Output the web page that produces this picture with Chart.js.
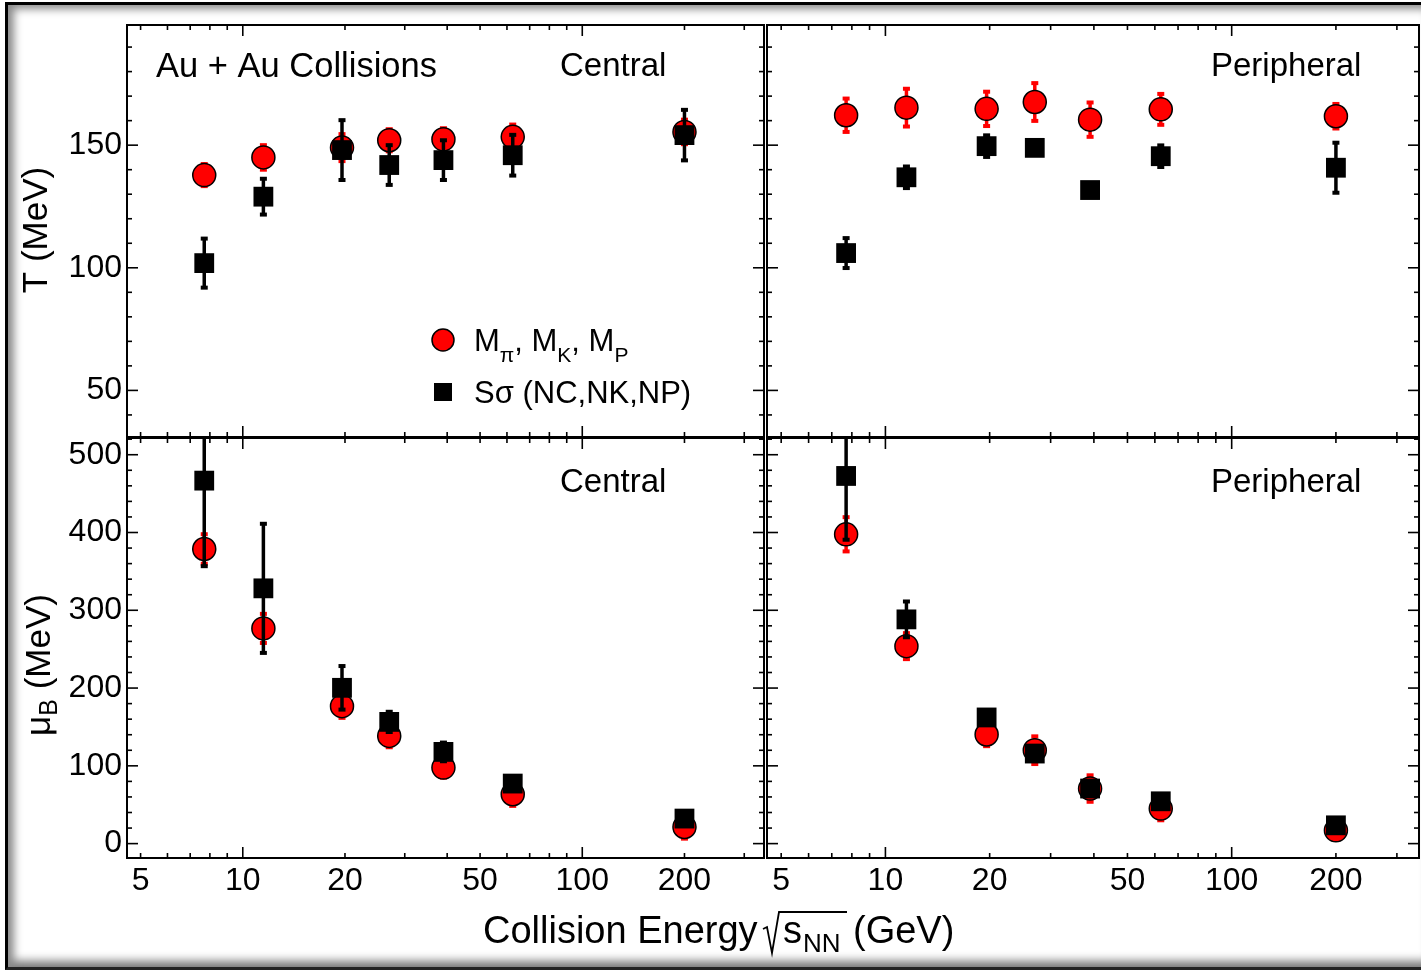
<!DOCTYPE html>
<html><head><meta charset="utf-8">
<script src="https://cdn.jsdelivr.net/npm/chart.js@4.4.1/dist/chart.umd.min.js"></script>
<style>
html,body{margin:0;padding:0;background:#fff;width:1421px;height:970px;overflow:hidden;}
#frame{position:absolute;left:5px;top:2px;width:1416px;height:968px;box-sizing:border-box;border-left:3px solid #000;border-top:3px solid #000;border-bottom:3px solid #222;box-shadow: inset 12px 10px 8px -6px #8a8a8a, inset 0 -14px 10px -8px #777;}
canvas{position:absolute;left:0;top:0;}
</style></head><body>
<div id="frame"></div>
<canvas id="cTL" width="1421" height="970"></canvas>
<canvas id="cTR" width="1421" height="970"></canvas>
<canvas id="cBL" width="1421" height="970"></canvas>
<canvas id="cBR" width="1421" height="970"></canvas>
<script>
// ---- data ----
const energies = [7.7, 11.5, 19.6, 27, 39, 62.4, 200];
const xTickLabels = [5, 10, 20, 50, 100, 200];
const tTickLabels = [50, 100, 150];
const muTickLabels = [0, 100, 200, 300, 400, 500];

const tCentralM     = [137.8, 145.0, 149.0, 152.0, 152.4, 153.4, 155.4];
const tCentralMErr  = [4.5, 5.0, 5.5, 4.5, 4.5, 5.0, 5.0];
const tCentralS     = [101.9, 129.0, 148.0, 141.9, 143.9, 145.9, 154.1];
const tCentralSErr  = [10.0, 7.3, 12.2, 8.1, 8.1, 8.3, 10.3];

const tPeriphM      = [162.2, 165.3, 164.8, 167.6, 160.4, 164.6, 161.8];
const tPeriphMErr   = [6.8, 7.7, 7.0, 7.7, 7.0, 6.3, 5.0];
const tPeriphS      = [106.0, 136.9, 149.6, 148.9, 131.7, 145.5, 140.8];
const tPeriphSErr   = [6.1, 4.4, 4.4, 2.0, 2.0, 4.4, 10.2];

const muCentralM    = [378.8, 276.7, 176.7, 138.5, 97.8, 63.5, 21.4];
const muCentralMErr = [19, 18.7, 15, 14.6, 13, 15, 15];
const muCentralS    = [466.7, 328.2, 200.3, 156.5, 117.9, 77.2, 32.2];
const muCentralSErr = [110, 83, 28, 13, 12, 5, 5];

const muPeriphM     = [397.7, 253.9, 140.3, 120.1, 70.8, 45.0, 17.1];
const muPeriphMErr  = [22, 16.7, 15, 17.8, 17, 15, 5];
const muPeriphS     = [472.7, 288.3, 162.2, 115.8, 70.8, 54.4, 23.5];
const muPeriphSErr  = [82, 23, 5, 8, 8, 5, 5];

const FONT = "'Liberation Sans', Arial, Helvetica, sans-serif";
const RED = '#ff0000';

// ---- plugins ----
const errorBars = {
  id: 'errorBars',
  beforeDatasetDraw(chart, args) {
    const ds = chart.data.datasets[args.index];
    if (!ds.errors) return;
    const ys = chart.scales.y, ctx = chart.ctx, a = chart.chartArea;
    ctx.save();
    ctx.beginPath(); ctx.rect(a.left, a.top, a.right - a.left, a.bottom - a.top); ctx.clip();
    ctx.strokeStyle = ds.errorColor; ctx.fillStyle = ds.errorColor; ctx.lineWidth = 3.5;
    args.meta.data.forEach((pt, i) => {
      const v = ds.data[i].y, e = ds.errors[i];
      const y1 = ys.getPixelForValue(v + e), y2 = ys.getPixelForValue(v - e);
      ctx.beginPath(); ctx.moveTo(pt.x, y1); ctx.lineTo(pt.x, y2); ctx.stroke();
      ctx.fillRect(pt.x - 3.5, y1 - 2, 7, 4);
      ctx.fillRect(pt.x - 3.5, y2 - 2, 7, 4);
    });
    ctx.restore();
  }
};

const frameTicks = {
  id: 'frameTicks',
  afterDraw(chart, args, opts) {
    const ctx = chart.ctx, a = chart.chartArea, x = chart.scales.x, y = chart.scales.y;
    ctx.save();
    ctx.strokeStyle = '#000';
    ctx.lineWidth = 1.6;
    const seg = (x1, y1, x2, y2) => { ctx.beginPath(); ctx.moveTo(x1, y1); ctx.lineTo(x2, y2); ctx.stroke(); };
    for (let d = 1; d <= 1000; d *= 10) {
      for (let m = 1; m <= 9; m++) {
        const v = m * d;
        if (v < x.min || v > x.max) continue;
        const px = x.getPixelForValue(v), len = m === 1 ? 11 : 5;
        seg(px, a.bottom, px, a.bottom - len);
        seg(px, a.top, px, a.top + len);
      }
    }
    const start = Math.ceil(y.min / opts.minor) * opts.minor;
    for (let v = start; v <= y.max; v += opts.minor) {
      const py = y.getPixelForValue(v);
      const len = (Math.round(v) % opts.major === 0) ? 11 : 5;
      seg(a.left, py, a.left + len, py);
      seg(a.right, py, a.right - len, py);
    }
    ctx.lineWidth = 2;
    ctx.strokeRect(a.left, a.top, a.right - a.left, a.bottom - a.top);
    ctx.restore();
  }
};

const annotations = {
  id: 'annotations',
  afterDraw(chart, args, opts) {
    const ctx = chart.ctx;
    ctx.save();
    ctx.fillStyle = '#000';
    ctx.textBaseline = 'middle';
    (opts.texts || []).forEach(t => {
      ctx.font = (t.size || 33) + 'px ' + FONT;
      ctx.textAlign = t.align || 'left';
      ctx.fillText(t.text, t.x, t.y);
    });
    if (opts.legend) {
      const L = opts.legend;
      ctx.beginPath(); ctx.arc(L.x, L.y1, 11, 0, Math.PI * 2);
      ctx.fillStyle = RED; ctx.fill(); ctx.lineWidth = 1.5; ctx.strokeStyle = '#000'; ctx.stroke();
      ctx.fillStyle = '#000';
      ctx.textAlign = 'left'; ctx.textBaseline = 'alphabetic';
      let cx = L.tx;
      const parts = [['M', 0], ['\u03c0', 1], [', M', 0], ['K', 1], [', M', 0], ['P', 1]];
      parts.forEach(([s, sub]) => {
        ctx.font = (sub ? 21 : 31) + 'px ' + FONT;
        ctx.fillText(s, cx, L.y1 + (sub ? 22 : 11));
        cx += ctx.measureText(s).width;
      });
      ctx.fillRect(L.x - 9, L.y2 - 9, 18, 18);
      ctx.font = '31px ' + FONT;
      ctx.fillText('S\u03c3 (NC,NK,NP)', L.tx, L.y2 + 11);
    }
    if (opts.yTitle) {
      const Y = opts.yTitle;
      ctx.save();
      ctx.translate(Y.x, Y.y); ctx.rotate(-Math.PI / 2);
      ctx.textBaseline = 'middle';
      let w = 0;
      const segs = Y.parts.map(([s, sub]) => {
        ctx.font = (sub ? 25 : 35) + 'px ' + FONT;
        const ww = ctx.measureText(s).width; w += ww; return [s, sub, ww];
      });
      let cx = -w / 2;
      segs.forEach(([s, sub, ww]) => {
        ctx.font = (sub ? 25 : 35) + 'px ' + FONT;
        ctx.textAlign = 'left';
        ctx.fillText(s, cx, sub ? 10 : 0);
        cx += ww;
      });
      ctx.restore();
    }
    if (opts.xTitle) {
      const X = opts.xTitle;
      ctx.textAlign = 'left'; ctx.textBaseline = 'alphabetic';
      ctx.font = '38px ' + FONT;
      ctx.fillText('Collision Energy', X.x, X.y);
      let cx = X.rootX;
      ctx.lineWidth = 1.8; ctx.strokeStyle = '#000';
      ctx.beginPath();
      ctx.moveTo(cx, X.y - 14); ctx.lineTo(cx + 4, X.y - 16);
      ctx.lineTo(cx + 9, X.y + 10); ctx.lineTo(cx + 16, X.y - 31); ctx.lineTo(cx + 84, X.y - 31);
      ctx.stroke();
      cx += 20;
      ctx.fillText('s', cx, X.y); cx += ctx.measureText('s').width + 1;
      ctx.font = '26px ' + FONT;
      ctx.fillText('NN', cx, X.y + 9);
      ctx.font = '38px ' + FONT;
      ctx.fillText('(GeV)', X.gevX, X.y);
    }
    ctx.restore();
  }
};

Chart.register(errorBars, frameTicks, annotations);

function pts(vals) { return energies.map((e, i) => ({ x: e, y: vals[i] })); }

function makeChart(id, cfg) {
  const left = cfg.side === 'left', top = cfg.row === 'top';
  const datasets = [
    { label: 'S\u03c3 (NC,NK,NP)', data: pts(cfg.s), errors: cfg.sErr, errorColor: '#000',
      pointStyle: 'rect', pointRadius: 14, pointHoverRadius: 14, backgroundColor: '#000', borderColor: '#000', borderWidth: 0, order: 0, showLine: false },
    { label: 'M\u03c0, MK, MP', data: pts(cfg.m), errors: cfg.mErr, errorColor: RED,
      pointStyle: 'circle', pointRadius: 11.5, pointHoverRadius: 11.5, backgroundColor: RED, borderColor: '#000', borderWidth: 1.5, order: 1, showLine: false }
  ];
  return new Chart(document.getElementById(id), {
    type: 'scatter',
    data: { datasets },
    options: {
      responsive: false, animation: false, devicePixelRatio: 1,
      layout: { autoPadding: false, padding: {
        left: left ? 0 : 767, right: left ? 1421 - 764 : 2,
        top: top ? 25 : 438, bottom: top ? 533 : 0 } },
      plugins: {
        legend: { display: false }, tooltip: { enabled: false },
        frameTicks: { minor: top ? 10 : 20, major: top ? 50 : 100 },
        annotations: cfg.ann
      },
      scales: {
        x: {
          type: 'logarithmic', position: 'bottom',
          min: left ? 4.56 : 4.55, max: left ? 343 : 347.5,
          grid: { display: false, drawTicks: false }, border: { display: false },
          ticks: { display: !top, font: { family: FONT, size: 32 }, color: '#000', padding: 4, maxRotation: 0, autoSkip: false,
            callback: v => String(v) },
          afterBuildTicks: s => { s.ticks = xTickLabels.map(v => ({ value: v })); },
          afterFit: s => { s.height = top ? 0 : 112; }
        },
        y: {
          type: 'linear', min: top ? 31 : -18.5, max: top ? 199 : 521.5,
          grid: { display: false, drawTicks: false }, border: { display: false },
          ticks: { display: left, font: { family: FONT, size: 32 }, color: '#000', padding: 5, autoSkip: false },
          afterBuildTicks: s => { s.ticks = (top ? tTickLabels : muTickLabels).map(v => ({ value: v })); },
          afterFit: s => { s.width = left ? 127 : 0; }
        }
      }
    }
  });
}

makeChart('cTL', { side: 'left', row: 'top', m: tCentralM, mErr: tCentralMErr, s: tCentralS, sErr: tCentralSErr,
  ann: { texts: [ { text: 'Au + Au Collisions', x: 156, y: 67, size: 34.5 }, { text: 'Central', x: 560, y: 67 } ],
         legend: { x: 443, y1: 340, y2: 392, tx: 474 },
         yTitle: { x: 37, y: 230, parts: [['T (MeV)', 0]] } } });
makeChart('cTR', { side: 'right', row: 'top', m: tPeriphM, mErr: tPeriphMErr, s: tPeriphS, sErr: tPeriphSErr,
  ann: { texts: [ { text: 'Peripheral', x: 1211, y: 67 } ] } });
makeChart('cBL', { side: 'left', row: 'bottom', m: muCentralM, mErr: muCentralMErr, s: muCentralS, sErr: muCentralSErr,
  ann: { texts: [ { text: 'Central', x: 560, y: 483 } ],
         yTitle: { x: 40, y: 665, parts: [['\u03bc', 0], ['B', 1], [' (MeV)', 0]] },
         xTitle: { x: 483, y: 943, rootX: 763, gevX: 853 } } });
makeChart('cBR', { side: 'right', row: 'bottom', m: muPeriphM, mErr: muPeriphMErr, s: muPeriphS, sErr: muPeriphSErr,
  ann: { texts: [ { text: 'Peripheral', x: 1211, y: 483 } ] } });
</script>
</body></html>
